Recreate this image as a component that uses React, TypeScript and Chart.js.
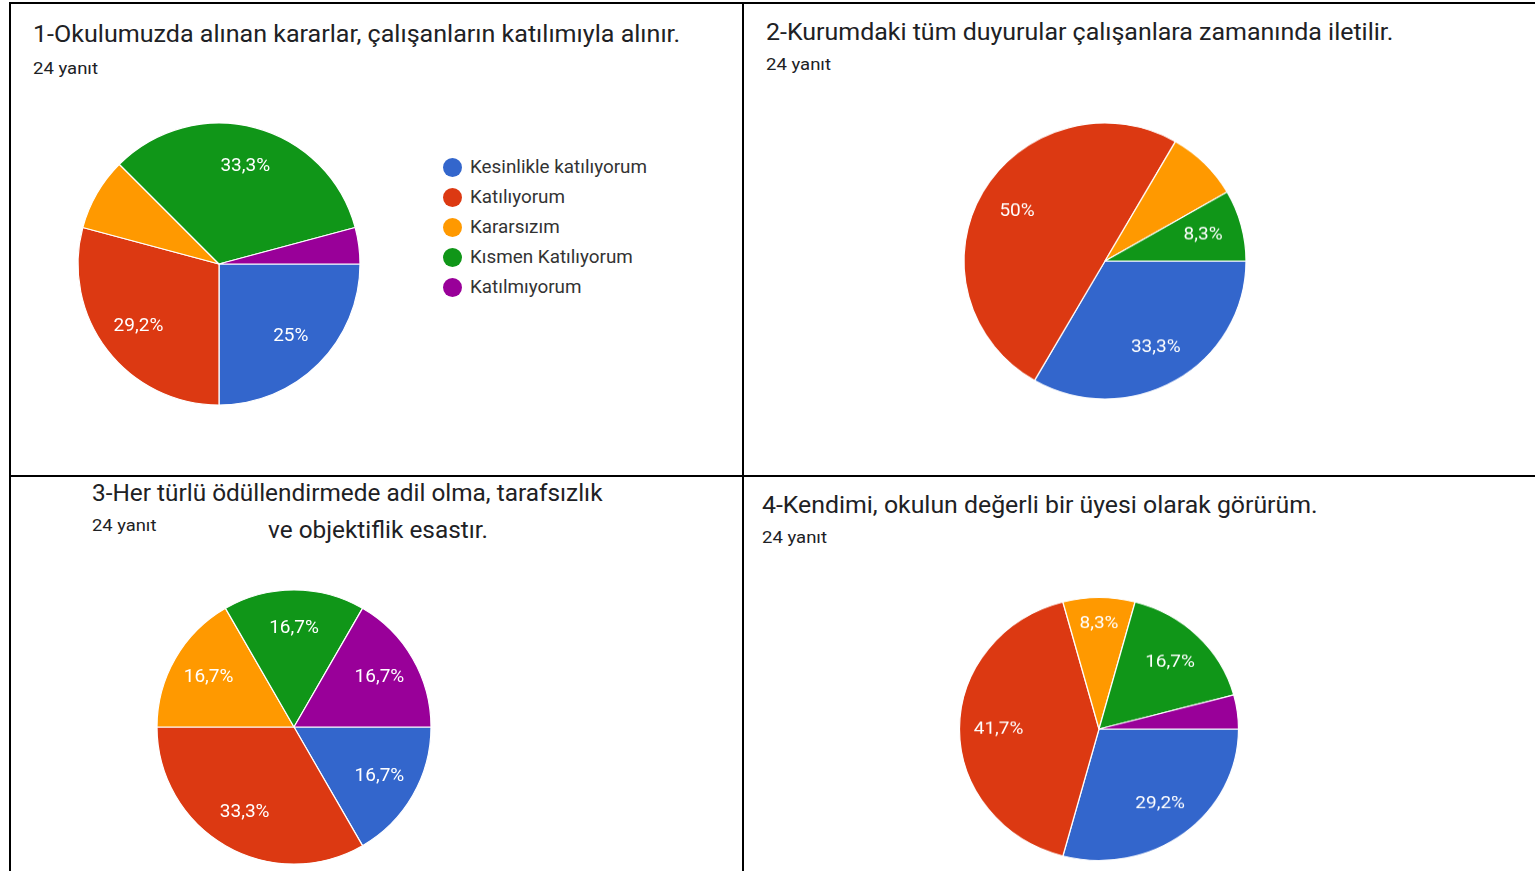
import React, { useEffect, useRef } from "react";
import { Chart, registerables } from "chart.js";

Chart.register(...registerables);

const categories = [
  "Kesinlikle katılıyorum",
  "Katılıyorum",
  "Kararsızım",
  "Kısmen Katılıyorum",
  "Katılmıyorum",
];
const sliceColors = ["#3366cc", "#dc3912", "#ff9900", "#109618", "#990099"];

const q1Values = [6, 7, 2, 8, 1];
const q2Values = [8, 12, 2, 2, 0];
const q3Values = [4, 8, 4, 4, 4];
const q4Values = [7, 10, 2, 4, 1];

const q1ShowLabel = [true, true, false, true, false];
const q2ShowLabel = [true, true, false, true, false];
const q3ShowLabel = [true, true, true, true, true];
const q4ShowLabel = [true, true, true, true, false];

const responseCount = "24 yanıt";
const title1 = "1-Okulumuzda alınan kararlar, çalışanların katılımıyla alınır.";
const title2 = "2-Kurumdaki tüm duyurular çalışanlara zamanında iletilir.";
const title3a = "3-Her türlü ödüllendirmede adil olma, tarafsızlık";
const title3b = "ve objektiflik esastır.";
const title4 = "4-Kendimi, okulun değerli bir üyesi olarak görürüm.";

const FONT = "Roboto, 'Noto Sans', Arial, sans-serif";

function fmtPct(v: number, total: number): string {
  const p = Math.round((v / total) * 1000) / 10;
  const s = Number.isInteger(p) ? String(p) : p.toFixed(1).replace(".", ",");
  return s + "%";
}

type PieProps = {
  values: number[];
  show: boolean[];
  cx: number;
  cy: number;
  rx: number;
  ry: number;
};

function Pie({ values, show, cx, cy, rx, ry }: PieProps) {
  const ref = useRef<HTMLCanvasElement | null>(null);
  const S = 300;
  useEffect(() => {
    if (!ref.current) return;
    const total = values.reduce((a, b) => a + b, 0);
    const labelPlugin = {
      id: "pctLabels",
      afterDatasetsDraw(chart: any) {
        const ctx = chart.ctx;
        const meta = chart.getDatasetMeta(0);
        ctx.save();
        ctx.fillStyle = "#ffffff";
        ctx.font = `19px ${FONT}`;
        ctx.textAlign = "center";
        ctx.textBaseline = "middle";
        meta.data.forEach((arc: any, i: number) => {
          if (!show[i] || values[i] === 0) return;
          const p = arc.getProps(["x", "y", "startAngle", "endAngle", "outerRadius"], true);
          const a = (p.startAngle + p.endAngle) / 2;
          const frac = values[i] / total;
          const narrowVertical = frac < 0.1 && Math.abs(Math.sin(a)) > 0.7;
          const r = p.outerRadius * (narrowVertical ? 0.8 : 0.72);
          ctx.fillText(fmtPct(values[i], total), p.x + Math.cos(a) * r, p.y + Math.sin(a) * r);
        });
        ctx.restore();
      },
    };
    const chart = new Chart(ref.current, {
      type: "pie",
      data: {
        labels: categories,
        datasets: [
          {
            data: values,
            backgroundColor: sliceColors,
            borderColor: "#ffffff",
            borderWidth: 1.2,
            radius: rx,
          } as any,
        ],
      },
      options: {
        responsive: false,
        animation: false,
        rotation: 90,
        layout: { padding: 0 },
        plugins: {
          legend: { display: false },
          tooltip: { enabled: false },
        },
      },
      plugins: [labelPlugin],
    });
    return () => chart.destroy();
  }, []);
  return (
    <div
      style={{
        position: "absolute",
        left: cx - S / 2,
        top: cy - S / 2,
        width: S,
        height: S,
        transform: `scaleY(${ry / rx})`,
        transformOrigin: "center center",
      }}
    >
      <canvas ref={ref} width={S} height={S} style={{ display: "block" }} />
    </div>
  );
}

function Txt({
  x,
  baseline,
  size,
  color,
  stretch = 1,
  children,
}: {
  x: number;
  baseline: number;
  size: number;
  color: string;
  stretch?: number;
  children: React.ReactNode;
}) {
  return (
    <div
      style={{
        position: "absolute",
        left: x,
        top: baseline - 0.842 * size,
        fontFamily: FONT,
        fontSize: size,
        lineHeight: 1,
        color,
        whiteSpace: "nowrap",
        transform: `scaleX(${stretch})`,
        transformOrigin: "left center",
      }}
    >
      {children}
    </div>
  );
}

function Line({ x, y, w, h }: { x: number; y: number; w: number; h: number }) {
  return <div style={{ position: "absolute", left: x, top: y, width: w, height: h, background: "#000" }} />;
}

export default function App() {
  const TITLE = 23;
  const SUB = 17;
  const titleColor = "#202124";
  const subColor = "#202124";
  return (
    <div
      style={{
        position: "fixed",
        left: 0,
        top: 0,
        width: 1535,
        height: 871,
        background: "#fff",
        overflow: "hidden",
      }}
    >
      {/* grid lines */}
      <Line x={9} y={2} w={2} h={869} />
      <Line x={9} y={2} w={1526} h={2} />
      <Line x={742} y={2} w={2} h={869} />
      <Line x={9} y={475} w={1526} h={2} />

      {/* panel 1 */}
      <Txt x={33} baseline={42} size={TITLE} color={titleColor} stretch={1.09}>{title1}</Txt>
      <Txt x={33} baseline={74} size={SUB} color={subColor} stretch={1.09}>{responseCount}</Txt>
      <Pie values={q1Values} show={q1ShowLabel} cx={219} cy={264} rx={141} ry={141} />
      {categories.map((c, i) => (
        <div key={c}>
          <div
            style={{
              position: "absolute",
              left: 452.5 - 9.5,
              top: 167 + i * 30 - 9.5,
              width: 19,
              height: 19,
              borderRadius: "50%",
              background: sliceColors[i],
            }}
          />
          <Txt x={470} baseline={173.5 + i * 30} size={18} color="#333" stretch={1.047}>{c}</Txt>
        </div>
      ))}

      {/* panel 2 */}
      <Txt x={766} baseline={40} size={TITLE} color={titleColor} stretch={1.085}>{title2}</Txt>
      <Txt x={766} baseline={70} size={SUB} color={subColor} stretch={1.09}>{responseCount}</Txt>
      <Pie values={q2Values} show={q2ShowLabel} cx={1105} cy={261} rx={141} ry={138} />

      {/* panel 3 */}
      <Txt x={92} baseline={501} size={TITLE} color={titleColor} stretch={1.06}>{title3a}</Txt>
      <Txt x={92} baseline={531} size={SUB} color={subColor} stretch={1.08}>{responseCount}</Txt>
      <Txt x={268} baseline={538} size={TITLE} color={titleColor} stretch={1.06}>{title3b}</Txt>
      <Pie values={q3Values} show={q3ShowLabel} cx={294} cy={727} rx={137} ry={137} />

      {/* panel 4 */}
      <Txt x={762} baseline={513} size={TITLE} color={titleColor} stretch={1.08}>{title4}</Txt>
      <Txt x={762} baseline={543} size={SUB} color={subColor} stretch={1.09}>{responseCount}</Txt>
      <Pie values={q4Values} show={q4ShowLabel} cx={1098.5} cy={728.5} rx={139.5} ry={131.5} />
    </div>
  );
}
